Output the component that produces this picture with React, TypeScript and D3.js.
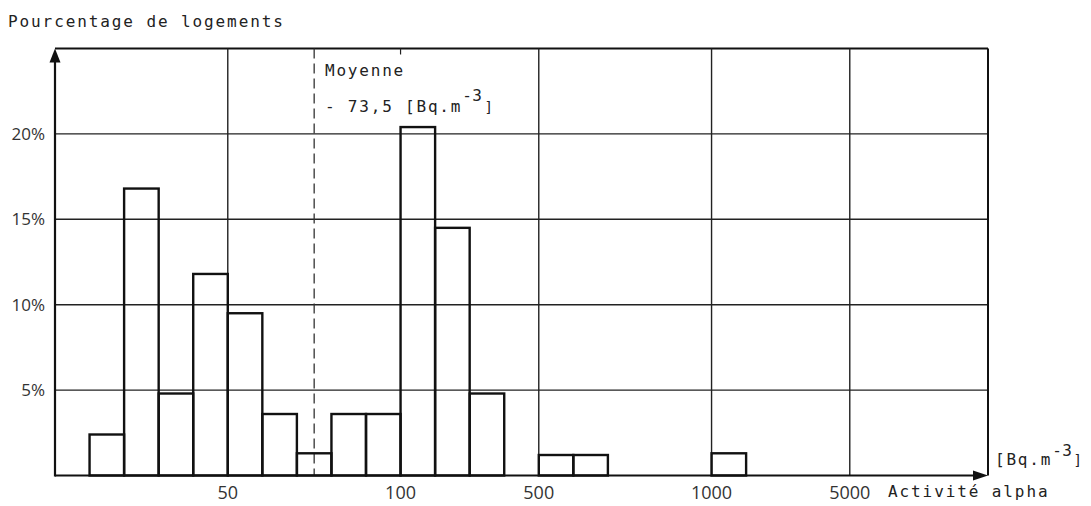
import React from "react";
import { scaleLinear } from "d3";

// histogram bins, in slot units along the (non linear) activity axis
const binStart = [1, 2, 3, 4, 5, 6, 7, 8, 9, 10, 11, 12, 14, 15, 19];
const binPercent = [2.4, 16.8, 4.8, 11.8, 9.5, 3.6, 1.3, 3.6, 3.6, 20.4, 14.5, 4.8, 1.2, 1.2, 1.3];

const xTickSlots = [5, 10, 14, 19, 23];
const xTickLabels = ["50", "100", "500", "1000", "5000"];
const xGridSlots = [5, 14, 19, 23];
const yTicks = [5, 10, 15, 20];
const meanSlot = 7.5;

const W = 1091;
const H = 506;
const mono = "'DejaVu Sans Mono', monospace";
const sans = "'Open Sans', sans-serif";

export default function App() {
  const x = scaleLinear().domain([0, 27]).range([55, 988]);
  const y = scaleLinear().domain([0, 25]).range([475.5, 48.5]);
  const x0 = x(0);
  const x1 = x(27);
  const yTop = y(25);
  const yBase = y(0);

  return (
    <svg
      width={W}
      height={H}
      style={{ position: "absolute", left: 0, top: 0, background: "#fff" }}
    >
      {/* horizontal grid */}
      {yTicks.map(t => (
        <line key={"h" + t} x1={x0} x2={x1} y1={y(t)} y2={y(t)} stroke="#222" strokeWidth={1.4} />
      ))}
      <line x1={x0} x2={x1} y1={yTop} y2={yTop} stroke="#111" strokeWidth={2} />
      {/* vertical grid */}
      {xGridSlots.map(s => (
        <line key={"v" + s} x1={x(s)} x2={x(s)} y1={yTop} y2={yBase} stroke="#222" strokeWidth={1.4} />
      ))}
      <line x1={x1} x2={x1} y1={yTop} y2={yBase} stroke="#111" strokeWidth={2} />
      <line x1={x(10)} x2={x(10)} y1={yTop} y2={yTop + 6} stroke="#222" strokeWidth={1.2} />

      {/* mean line */}
      <line
        x1={x(meanSlot)}
        x2={x(meanSlot)}
        y1={yTop}
        y2={yBase}
        stroke="#333"
        strokeWidth={1.3}
        strokeDasharray="10 5"
      />

      {/* bars */}
      {binStart.map((s, i) => (
        <rect
          key={"b" + i}
          x={x(s)}
          y={y(binPercent[i])}
          width={x(s + 1) - x(s)}
          height={yBase - y(binPercent[i])}
          fill="none"
          stroke="#111"
          strokeWidth={2.4}
        />
      ))}

      {/* axes */}
      <line x1={x0} x2={x0} y1={yBase + 1} y2={yTop + 8} stroke="#111" strokeWidth={2.2} />
      <path d={`M${x0},${yTop} L${x0 - 5.5},${yTop + 14} L${x0 + 5.5},${yTop + 14} Z`} fill="#111" />
      <line x1={x0} x2={x1 - 8} y1={yBase} y2={yBase} stroke="#111" strokeWidth={2.2} />
      <path d={`M${x1},${yBase} L${x1 - 15},${yBase - 5} L${x1 - 15},${yBase + 5} Z`} fill="#111" />

      {/* y labels */}
      {yTicks.map(t => (
        <text
          key={"yl" + t}
          x={45}
          y={y(t)}
          dy="0.36em"
          textAnchor="end"
          fontFamily={sans}
          fontSize={17}
          fill="#333"
        >
          {t + "%"}
        </text>
      ))}

      {/* x labels */}
      {xTickSlots.map((s, i) => (
        <text
          key={"xl" + i}
          x={x(s)}
          y={499}
          textAnchor="middle"
          fontFamily={sans}
          fontSize={18}
          fill="#333"
        >
          {xTickLabels[i]}
        </text>
      ))}

      <text x={8} y={27} fontFamily={mono} fontSize={16} letterSpacing={1.9} fill="#222">
        Pourcentage de logements
      </text>
      <text x={325} y={76} fontFamily={mono} fontSize={16} letterSpacing={1.8} fill="#222">
        Moyenne
      </text>
      <text x={325} y={112} fontFamily={mono} fontSize={16} letterSpacing={1.8} fill="#222">
        - 73,5 [Bq.m
        <tspan dy={-11} letterSpacing={0.5}>-3</tspan>
        <tspan dy={11} dx={2} fontSize={14}>]</tspan>
      </text>
      <text x={995} y={465} fontFamily={mono} fontSize={16} letterSpacing={1.8} fill="#222">
        [Bq.m
        <tspan dy={-9} letterSpacing={0.5}>-3</tspan>
        <tspan dy={9} dx={1} fontSize={14}>]</tspan>
      </text>
      <text x={888} y={497} fontFamily={mono} fontSize={16} letterSpacing={1.9} fill="#222">
        Activité alpha
      </text>
    </svg>
  );
}
